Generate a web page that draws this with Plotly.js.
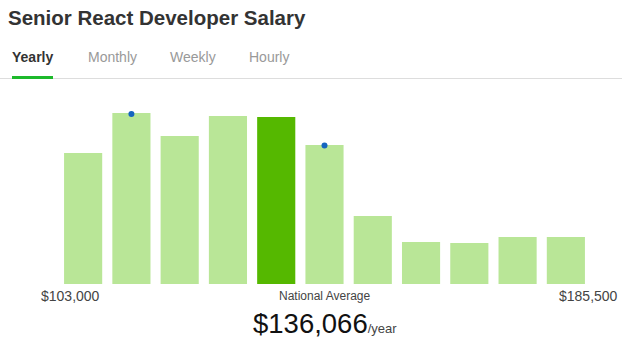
<!DOCTYPE html>
<html>
<head>
<meta charset="utf-8">
<script src="https://cdn.plot.ly/plotly-3.0.1.min.js"></script>
<style>
html,body{margin:0;padding:0;background:#fff;}
#chart{width:643px;height:361px;}
</style>
</head>
<body>
<div id="chart"></div>
<script>
// Salary distribution buckets (relative frequency)
var buckets = ["b1","b2","b3","b4","b5","b6","b7","b8","b9","b10","b11"];
var counts = [131, 171, 148, 168, 167, 139, 68, 42, 41, 47, 47];
var highlightIndex = 4; // national average bucket
var dotBuckets = ["b2","b6"];
var dotValues = [170, 138.5];
var tabs = ["Yearly","Monthly","Weekly","Hourly"];
var minLabel = "$103,000";
var maxLabel = "$185,500";
var avgLabel = "National Average";
var avgValue = "$136,066";

var L = 59, R = 590, T = 104, B = 284;
function px(x){ return (x - L) / (R - L); }
function py(y){ return (B - y) / (B - T); }

var colors = counts.map(function(v,i){ return i === highlightIndex ? "#55b800" : "#b9e697"; });

var traces = [
  {type:"bar", x:buckets, y:counts, marker:{color:colors, line:{width:0}}, hoverinfo:"none"},
  {type:"scatter", mode:"markers", x:dotBuckets, y:dotValues, marker:{color:"#1565c0", size:6}, cliponaxis:false, hoverinfo:"none"}
];

var tabX = [10, 86, 168, 247];
var annotations = [
  {text:"<b>Senior React Developer Salary</b>", x:px(6), y:py(18), xref:"paper", yref:"paper", xanchor:"left", yanchor:"middle", showarrow:false, font:{family:"Liberation Sans, Arial", size:20.5, color:"#333"}},
  {text:minLabel, x:px(70), y:py(296), xref:"paper", yref:"paper", xanchor:"center", yanchor:"middle", showarrow:false, font:{family:"Liberation Sans, Arial", size:14, color:"#444"}},
  {text:avgLabel, x:px(325), y:py(296), xref:"paper", yref:"paper", xanchor:"center", yanchor:"middle", showarrow:false, font:{family:"Liberation Sans, Arial", size:12, color:"#444"}},
  {text:maxLabel, x:px(588), y:py(296), xref:"paper", yref:"paper", xanchor:"center", yanchor:"middle", showarrow:false, font:{family:"Liberation Sans, Arial", size:14, color:"#444"}},
  {text:avgValue + "<span style='font-size:13px;color:#444'>/year</span>", x:px(325), y:py(323), xref:"paper", yref:"paper", xanchor:"center", yanchor:"middle", showarrow:false, font:{family:"Liberation Sans, Arial", size:27.5, color:"#111"}}
];
tabs.forEach(function(t,i){
  annotations.push({text: i===0 ? "<b>"+t+"</b>" : t, x:px(tabX[i]), y:py(57), xref:"paper", yref:"paper", xanchor:"left", yanchor:"middle", showarrow:false, font:{family:"Liberation Sans, Arial", size:14, color: i===0 ? "#333" : "#999"}});
});

var shapes = [
  {type:"line", xref:"paper", yref:"paper", x0:px(0), x1:px(622), y0:py(78.5), y1:py(78.5), line:{color:"#dddddd", width:1}},
  {type:"rect", xref:"paper", yref:"paper", x0:px(12), x1:px(53), y0:py(76), y1:py(79), fillcolor:"#1db92b", line:{width:0}}
];

var layout = {
  width:643, height:361,
  margin:{l:L, r:643-R, t:T, b:361-B, pad:0},
  paper_bgcolor:"#fff", plot_bgcolor:"#fff",
  bargap:0.21,
  showlegend:false,
  xaxis:{type:"category", categoryarray:buckets, showticklabels:false, showgrid:false, zeroline:false, showline:false, ticks:"", range:[-0.5,10.5], fixedrange:true},
  yaxis:{range:[0,180], showticklabels:false, showgrid:false, zeroline:false, showline:false, ticks:"", fixedrange:true},
  annotations:annotations,
  shapes:shapes
};

Plotly.newPlot("chart", traces, layout, {displayModeBar:false, staticPlot:true});
</script>
</body>
</html>
